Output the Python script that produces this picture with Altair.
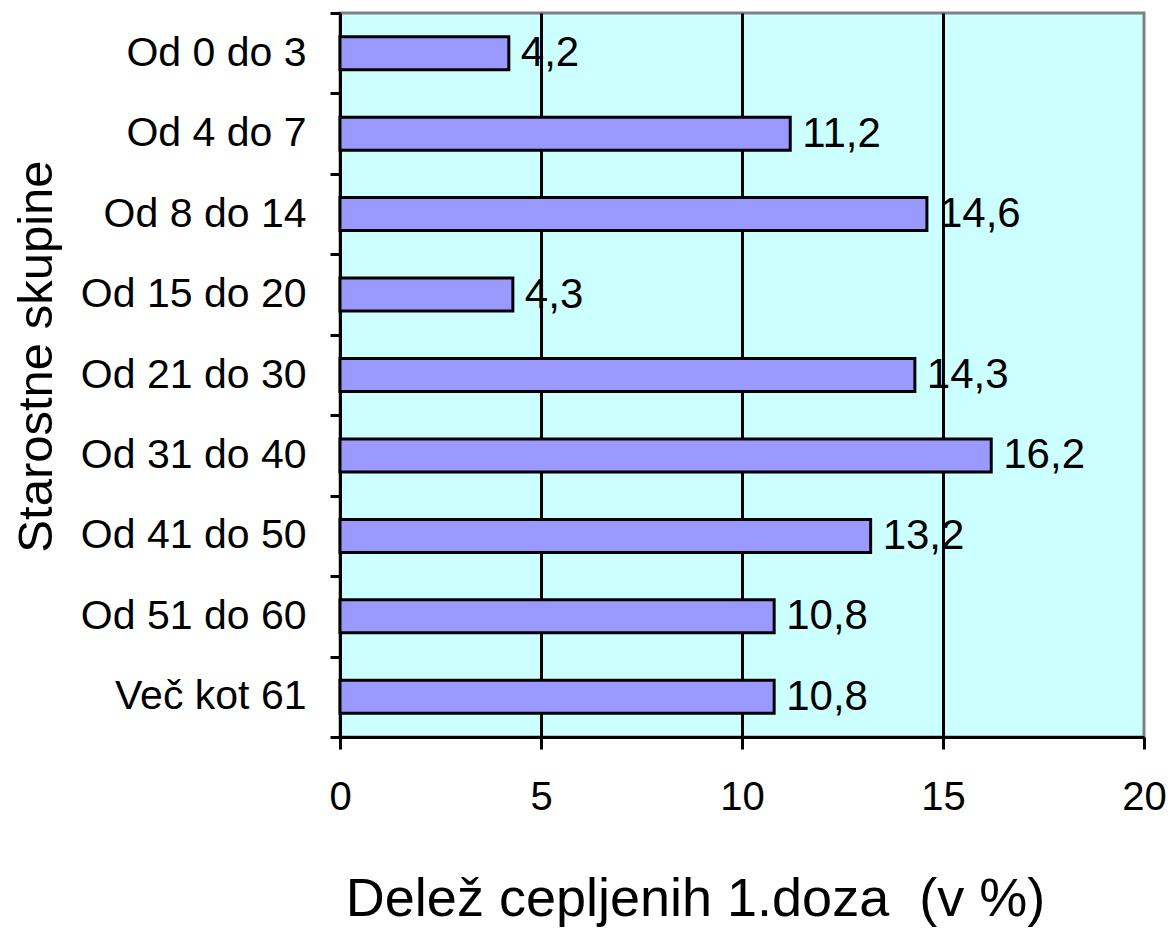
import altair as alt
import pandas as pd

categories = ["Od 0 do 3", "Od 4 do 7", "Od 8 do 14", "Od 15 do 20", "Od 21 do 30",
              "Od 31 do 40", "Od 41 do 50", "Od 51 do 60", "Več kot 61"]
values = [4.2, 11.2, 14.6, 4.3, 14.3, 16.2, 13.2, 10.8, 10.8]
x_ticks = [0, 5, 10, 15, 20]

df = pd.DataFrame({"cat": categories, "val": values})

FONT = "Liberation Sans"

y_enc = alt.Y("cat:N", sort=categories,
              scale=alt.Scale(paddingInner=0, paddingOuter=0),
              axis=alt.Axis(title="Starostne skupine", titleFontSize=49,
                            titleFont=FONT, titleFontWeight="normal", titleColor="black",
                            titleX=-279, titleY=343, titleAngle=-90, titleBaseline="bottom",
                            labelFont=FONT, labelFontSize=41, labelColor="black",
                            labelPadding=24, labelAlign="right", labelLimit=400,
                            tickBand="extent", tickSize=10, tickWidth=3, tickColor="black",
                            domainColor="black", domainWidth=3, grid=False))

x_enc = alt.X("val:Q", scale=alt.Scale(domain=[0, 20], nice=False),
              axis=alt.Axis(values=x_ticks, title="Delež cepljenih 1.doza \u00a0(v %)",
                            titleFont=FONT, titleFontSize=54, titleFontWeight="normal",
                            titleColor="black", titleX=355, titleY=178,
                            titleAlign="center", titleBaseline="alphabetic",
                            labelFont=FONT, labelFontSize=40, labelColor="black",
                            labelFlush=False, labelOverlap=False,
                            labelPadding=28, tickSize=12, tickWidth=3, tickColor="black",
                            domainColor="black", domainWidth=3,
                            grid=True, gridWidth=3,
                            gridColor={"condition": {"test": "datum.value == 0 || datum.value == 20",
                                                     "value": "transparent"},
                                       "value": "black"}))

bars = alt.Chart(df).mark_bar(color="#9999FF", stroke="black", strokeWidth=3,
                              height=alt.RelativeBandSize(0.41)).encode(
    x=x_enc, y=y_enc)

labels = alt.Chart(df).transform_calculate(
    lbl="replace(format(datum.val, '.1f'), '.', ',')"
).mark_text(align="left", baseline="middle", dx=12, font=FONT, fontSize=42, color="black").encode(
    x="val:Q", y=alt.Y("cat:N", sort=categories), text="lbl:N")

chart = alt.layer(bars, labels).properties(
    width=804, height=724,
    autosize=alt.AutoSizeParams(type="none"),
    padding={"left": 332, "top": 5, "right": 24, "bottom": 190},
    background="white"
).configure_view(fill="#CCFFFF", stroke="#808080", strokeWidth=3)

chart.save("out.html", embed_options={"renderer": "svg", "actions": False})
